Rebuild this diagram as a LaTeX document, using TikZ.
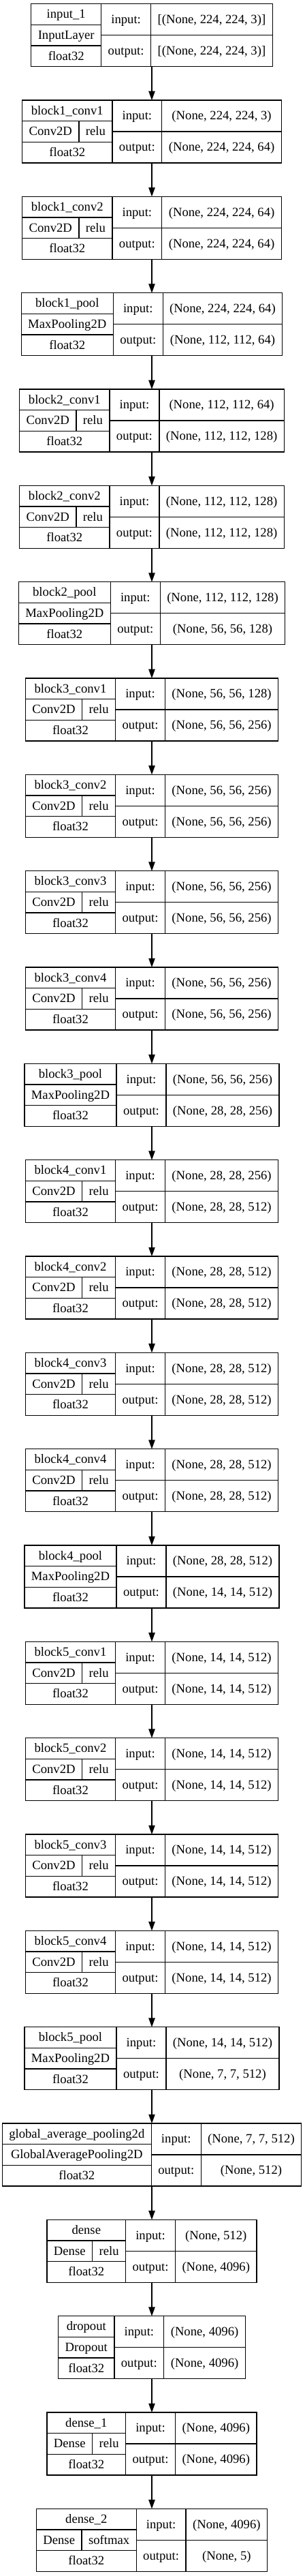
\documentclass[tikz,border=0pt]{standalone}
\usepackage{fontspec}
\setmainfont{Liberation Serif}
\usepackage{tikz}
\usetikzlibrary{
	positioning,
	arrows.meta
}

\newlength\lyA
\newlength\lyB
\newlength\lyC
\newlength\lyD
\newlength\lyE
\newlength\lyF
\newlength\lyG
\newcommand\lf{\fontsize{14pt}{16.8pt}\selectfont}
% width of a text, measured outside the picture
\newcommand\lymeasure[2]{%
	\pgfinterruptpicture\settowidth#1{\lf #2}\global#1=#1\relax\endpgfinterruptpicture}

\tikzset{
	layerbox/.style={draw, rectangle, line width=1pt, inner sep=0pt, outer sep=0pt, minimum height=69pt},
	cell/.style={inner sep=0pt, text height=12pt, text depth=3.5pt},
	rule/.style={line width=1pt},
	conn/.style={-{Triangle[length=10pt,width=7pt]}, line width=1pt}
}

% #1 node, #2 placement, #3 name, #4 class, #5 activation, #6 input, #7 output
\newcommand\kerasbox[7]{%
	\lymeasure\lyA{#3}%
	\lymeasure\lyB{#4}%
	\lymeasure\lyC{#5}%
	\lymeasure\lyD{#6}%
	\lymeasure\lyE{#7}%
	\lymeasure\lyF{float32}%
	\lymeasure\lyG{output:}%
	\if\relax\detokenize{#5}\relax
		\pgfmathsetmacro\lyRow{\lyB+15}%
	\else
		\pgfmathsetmacro\lyRow{\lyB+\lyC+30}%
	\fi
	\pgfmathsetmacro\lyL{max(\lyA+15,\lyRow,\lyF+15)}%
	\pgfmathsetmacro\lyM{\lyG+15}%
	\pgfmathsetmacro\lyR{max(\lyD,\lyE)+15}%
	\pgfmathsetmacro\lyLM{\lyL+\lyM}%
	\pgfmathsetmacro\lyW{\lyLM+\lyR}%
	\pgfmathsetmacro\lyCls{\lyB+15}%
	\pgfmathsetmacro\lyXa{\lyL/2}%
	\pgfmathsetmacro\lyXb{\lyL+\lyM/2}%
	\pgfmathsetmacro\lyXc{\lyLM+\lyR/2}%
	\pgfmathsetmacro\lyXd{\lyCls/2}%
	\pgfmathsetmacro\lyXe{(\lyCls+\lyL)/2}%
	\node[layerbox, minimum width=\lyW pt, #2] (#1) {};
	\begin{scope}[shift={(#1.north west)}]
		\draw[rule]
			(0,-23pt) -- (\lyL pt,-23pt)
			(0,-46pt) -- (\lyL pt,-46pt)
			(\lyL pt,0) -- (\lyL pt,-69pt)
			(\lyLM pt,0) -- (\lyLM pt,-69pt)
			(\lyL pt,-34.5pt) -- (\lyW pt,-34.5pt);
		\node[cell] (#1-name) at (\lyXa pt,-11.5pt) {#3};
		\if\relax\detokenize{#5}\relax
			\node[cell] (#1-cls) at (\lyXa pt,-34.5pt) {#4};
		\else
			\draw[rule] (\lyCls pt,-23pt) -- (\lyCls pt,-46pt);
			\node[cell] (#1-cls) at (\lyXd pt,-34.5pt) {#4};
			\node[cell] (#1-act) at (\lyXe pt,-34.5pt) {#5};
		\fi
		\node[cell] (#1-dt) at (\lyXa pt,-57.5pt) {float32};
		\node[cell] (#1-inl) at (\lyXb pt,-17.25pt) {input:};
		\node[cell] (#1-outl) at (\lyXb pt,-51.75pt) {output:};
		\node[cell] (#1-in) at (\lyXc pt,-17.25pt) {#6};
		\node[cell] (#1-out) at (\lyXc pt,-51.75pt) {#7};
	\end{scope}
}

\begin{document}
\begin{tikzpicture}[font=\lf]
	\useasboundingbox (0,0) rectangle (335.25pt,-2834.25pt);

	\kerasbox{in1}{anchor=north, at={(167.25pt,-4.3pt)}}{input\_1}{InputLayer}{}{[(None, 224, 224, 3)]}{[(None, 224, 224, 3)]}
	\kerasbox{b1conv1}{below=37pt of in1}{block1\_conv1}{Conv2D}{relu}{(None, 224, 224, 3)}{(None, 224, 224, 64)}
	\kerasbox{b1conv2}{below=37pt of b1conv1}{block1\_conv2}{Conv2D}{relu}{(None, 224, 224, 64)}{(None, 224, 224, 64)}
	\kerasbox{b1pool}{below=37pt of b1conv2}{block1\_pool}{MaxPooling2D}{}{(None, 224, 224, 64)}{(None, 112, 112, 64)}

	\kerasbox{b2conv1}{below=37pt of b1pool}{block2\_conv1}{Conv2D}{relu}{(None, 112, 112, 64)}{(None, 112, 112, 128)}
	\kerasbox{b2conv2}{below=37pt of b2conv1}{block2\_conv2}{Conv2D}{relu}{(None, 112, 112, 128)}{(None, 112, 112, 128)}
	\kerasbox{b2pool}{below=37pt of b2conv2}{block2\_pool}{MaxPooling2D}{}{(None, 112, 112, 128)}{(None, 56, 56, 128)}

	\kerasbox{b3conv1}{below=37pt of b2pool}{block3\_conv1}{Conv2D}{relu}{(None, 56, 56, 128)}{(None, 56, 56, 256)}
	\kerasbox{b3conv2}{below=37pt of b3conv1}{block3\_conv2}{Conv2D}{relu}{(None, 56, 56, 256)}{(None, 56, 56, 256)}
	\kerasbox{b3conv3}{below=37pt of b3conv2}{block3\_conv3}{Conv2D}{relu}{(None, 56, 56, 256)}{(None, 56, 56, 256)}
	\kerasbox{b3conv4}{below=37pt of b3conv3}{block3\_conv4}{Conv2D}{relu}{(None, 56, 56, 256)}{(None, 56, 56, 256)}
	\kerasbox{b3pool}{below=37pt of b3conv4}{block3\_pool}{MaxPooling2D}{}{(None, 56, 56, 256)}{(None, 28, 28, 256)}

	\kerasbox{b4conv1}{below=37pt of b3pool}{block4\_conv1}{Conv2D}{relu}{(None, 28, 28, 256)}{(None, 28, 28, 512)}
	\kerasbox{b4conv2}{below=37pt of b4conv1}{block4\_conv2}{Conv2D}{relu}{(None, 28, 28, 512)}{(None, 28, 28, 512)}
	\kerasbox{b4conv3}{below=37pt of b4conv2}{block4\_conv3}{Conv2D}{relu}{(None, 28, 28, 512)}{(None, 28, 28, 512)}
	\kerasbox{b4conv4}{below=37pt of b4conv3}{block4\_conv4}{Conv2D}{relu}{(None, 28, 28, 512)}{(None, 28, 28, 512)}
	\kerasbox{b4pool}{below=37pt of b4conv4}{block4\_pool}{MaxPooling2D}{}{(None, 28, 28, 512)}{(None, 14, 14, 512)}

	\kerasbox{b5conv1}{below=37pt of b4pool}{block5\_conv1}{Conv2D}{relu}{(None, 14, 14, 512)}{(None, 14, 14, 512)}
	\kerasbox{b5conv2}{below=37pt of b5conv1}{block5\_conv2}{Conv2D}{relu}{(None, 14, 14, 512)}{(None, 14, 14, 512)}
	\kerasbox{b5conv3}{below=37pt of b5conv2}{block5\_conv3}{Conv2D}{relu}{(None, 14, 14, 512)}{(None, 14, 14, 512)}
	\kerasbox{b5conv4}{below=37pt of b5conv3}{block5\_conv4}{Conv2D}{relu}{(None, 14, 14, 512)}{(None, 14, 14, 512)}
	\kerasbox{b5pool}{below=37pt of b5conv4}{block5\_pool}{MaxPooling2D}{}{(None, 14, 14, 512)}{(None, 7, 7, 512)}

	\kerasbox{gap}{below=37pt of b5pool}{global\_average\_pooling2d}{GlobalAveragePooling2D}{}{(None, 7, 7, 512)}{(None, 512)}
	\kerasbox{dense}{below=37pt of gap}{dense}{Dense}{relu}{(None, 512)}{(None, 4096)}
	\kerasbox{dropout}{below=37pt of dense}{dropout}{Dropout}{}{(None, 4096)}{(None, 4096)}
	\kerasbox{dense1}{below=37pt of dropout}{dense\_1}{Dense}{relu}{(None, 4096)}{(None, 4096)}
	\kerasbox{dense2}{below=37pt of dense1}{dense\_2}{Dense}{softmax}{(None, 4096)}{(None, 5)}

	\draw
		(in1)     edge[conn] (b1conv1)
		(b1conv1) edge[conn] (b1conv2)
		(b1conv2) edge[conn] (b1pool)
		(b1pool)  edge[conn] (b2conv1)
		(b2conv1) edge[conn] (b2conv2)
		(b2conv2) edge[conn] (b2pool)
		(b2pool)  edge[conn] (b3conv1)
		(b3conv1) edge[conn] (b3conv2)
		(b3conv2) edge[conn] (b3conv3)
		(b3conv3) edge[conn] (b3conv4)
		(b3conv4) edge[conn] (b3pool)
		(b3pool)  edge[conn] (b4conv1)
		(b4conv1) edge[conn] (b4conv2)
		(b4conv2) edge[conn] (b4conv3)
		(b4conv3) edge[conn] (b4conv4)
		(b4conv4) edge[conn] (b4pool)
		(b4pool)  edge[conn] (b5conv1)
		(b5conv1) edge[conn] (b5conv2)
		(b5conv2) edge[conn] (b5conv3)
		(b5conv3) edge[conn] (b5conv4)
		(b5conv4) edge[conn] (b5pool)
		(b5pool)  edge[conn] (gap)
		(gap)     edge[conn] (dense)
		(dense)   edge[conn] (dropout)
		(dropout) edge[conn] (dense1)
		(dense1)  edge[conn] (dense2)
	;
\end{tikzpicture}
\end{document}
